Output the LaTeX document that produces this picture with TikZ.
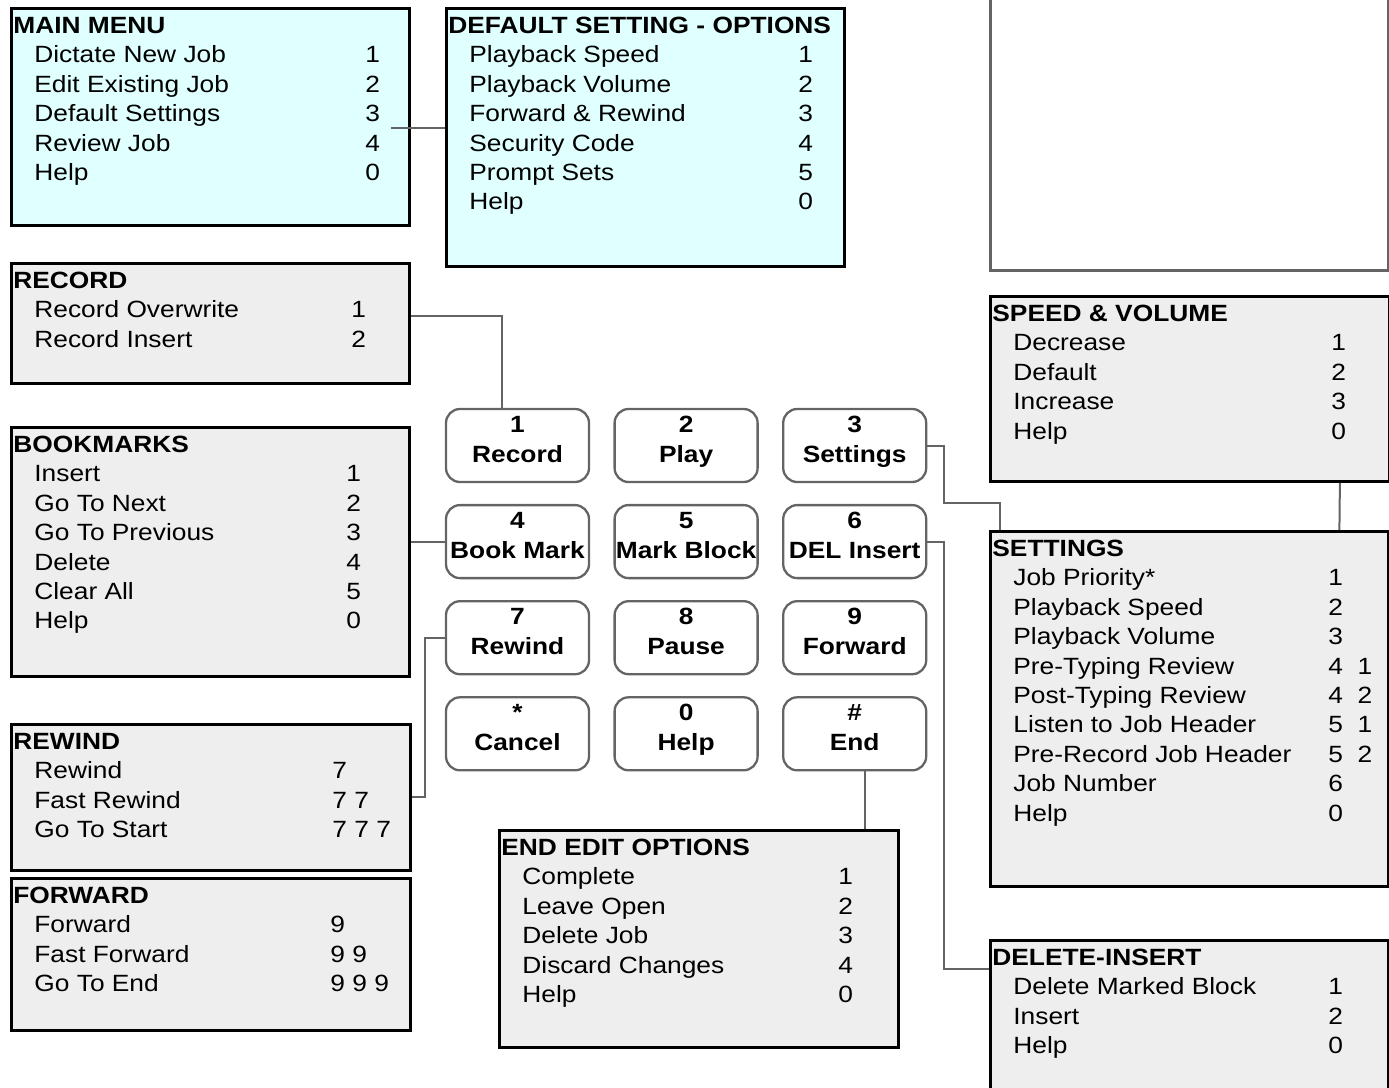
\documentclass[tikz,border=0pt]{standalone}
\usepackage{fontspec}
\setmainfont{Liberation Sans}[FakeStretch=1.12]
\usetikzlibrary{positioning}

\definecolor{menucyan}{RGB}{224,255,255}
\definecolor{menugray}{RGB}{238,238,238}
\definecolor{linegray}{RGB}{100,100,100}

\newlength{\numcol}
\newlength{\itemind}
\setlength{\itemind}{23pt}
% one menu line: text, then its key number in the number column
\newcommand{\entry}[2]{\makebox[\numcol][l]{\hspace*{\itemind}#1}#2\par}
% menu panel: width, height, number column, title, entries
\newcommand{\menu}[5]{\parbox[c][#2][t]{#1}{\setlength{\numcol}{#3}%
  \rule{0pt}{25pt}\hspace*{2pt}\textbf{#4}\par #5}}
% keypad label: digit over name
\newcommand{\keylabel}[2]{#1\\#2\rule[-13pt]{0pt}{13pt}}

\tikzset{
  menubox/.style={draw=black, line width=2.8pt, fill=menugray, inner sep=0pt,
    anchor=north west, font=\fontsize{23.5}{29.4}\selectfont},
  key/.style={draw=linegray, line width=2.3pt, rounded corners=14pt,
    minimum width=143pt, minimum height=73pt, inner sep=0pt, align=center,
    font=\bfseries\fontsize{23.5}{30}\selectfont},
  link/.style={draw=linegray, line width=2pt}
}

\begin{document}
\begin{tikzpicture}[x=1pt, y=-1pt]
\useasboundingbox (0,0) rectangle (1389,1087);
\clip (0,0) rectangle (1389,1087);

% menus
\node (mainmenu) [menubox, fill=menucyan] at (10,7) {\menu{398pt}{217pt}{354pt}{MAIN MENU}{%
  \entry{Dictate New Job}{1}
  \entry{Edit Existing Job}{2}
  \entry{Default Settings}{3}
  \entry{Review Job}{4}
  \entry{Help}{0}}};
\node (defaults) [menubox, fill=menucyan] at (445,7) {\menu{398pt}{258pt}{352pt}{DEFAULT SETTING - OPTIONS}{%
  \entry{Playback Speed}{1}
  \entry{Playback Volume}{2}
  \entry{Forward \& Rewind}{3}
  \entry{Security Code}{4}
  \entry{Prompt Sets}{5}
  \entry{Help}{0}}};
\node (blankpanel) [draw=linegray, line width=2.8pt, inner sep=0pt, minimum width=398pt,
  minimum height=320pt, anchor=south west] at (989,272) {};
\node (record) [menubox] at (10,262) {\menu{398pt}{120pt}{340pt}{RECORD}{%
  \entry{Record Overwrite}{1}
  \entry{Record Insert}{2}}};
\node (bookmarks) [menubox] at (10,426) {\menu{398pt}{249pt}{335pt}{BOOKMARKS}{%
  \entry{Insert}{1}
  \entry{Go To Next}{2}
  \entry{Go To Previous}{3}
  \entry{Delete}{4}
  \entry{Clear All}{5}
  \entry{Help}{0}}};
\node (rewind) [menubox] at (10,723) {\menu{399pt}{146pt}{321pt}{REWIND}{%
  \entry{Rewind}{7}
  \entry{Fast Rewind}{7 7}
  \entry{Go To Start}{7 7 7}}};
\node (forward) [menubox] at (10,877) {\menu{399pt}{152pt}{319pt}{FORWARD}{%
  \entry{Forward}{9}
  \entry{Fast Forward}{9 9}
  \entry{Go To End}{9 9 9}}};
\node (speedvol) [menubox] at (989,295) {\menu{399pt}{185pt}{341pt}{SPEED \& VOLUME}{%
  \entry{Decrease}{1}
  \entry{Default}{2}
  \entry{Increase}{3}
  \entry{Help}{0}}};
\node (settings) [menubox] at (989,530) {\menu{398pt}{355pt}{338pt}{SETTINGS}{%
  \entry{Job Priority*}{1}
  \entry{Playback Speed}{2}
  \entry{Playback Volume}{3}
  \entry{Pre-Typing Review}{4\ \ 1}
  \entry{Post-Typing Review}{4\ \ 2}
  \entry{Listen to Job Header}{5\ \ 1}
  \entry{Pre-Record Job Header}{5\ \ 2}
  \entry{Job Number}{6}
  \entry{Help}{0}}};
\node (endedit) [menubox] at (498,829) {\menu{399pt}{217pt}{339pt}{END EDIT OPTIONS}{%
  \entry{Complete}{1}
  \entry{Leave Open}{2}
  \entry{Delete Job}{3}
  \entry{Discard Changes}{4}
  \entry{Help}{0}}};
\node (delinsert) [menubox] at (989,939) {\menu{398pt}{170pt}{338pt}{DELETE-INSERT}{%
  \entry{Delete Marked Block}{1}
  \entry{Insert}{2}
  \entry{Help}{0}}};

% keypad
\node (key1) [key] at (517.5,445.5) {\keylabel{1}{Record}};
\node (key2) [key, right=23.3pt of key1] {\keylabel{2}{Play}};
\node (key3) [key, right=23.3pt of key2] {\keylabel{3}{Settings}};
\node (key4) [key, below=20.8pt of key1] {\keylabel{4}{Book Mark}};
\node (key5) [key, right=23.3pt of key4] {\keylabel{5}{Mark Block}};
\node (key6) [key, right=23.3pt of key5] {\keylabel{6}{DEL Insert}};
\node (key7) [key, below=20.8pt of key4] {\keylabel{7}{Rewind}};
\node (key8) [key, right=23.3pt of key7] {\keylabel{8}{Pause}};
\node (key9) [key, right=23.3pt of key8] {\keylabel{9}{Forward}};
\node (keystar) [key, below=20.8pt of key7] {\keylabel{*}{Cancel}};
\node (key0) [key, right=23.3pt of keystar] {\keylabel{0}{Help}};
\node (keyhash) [key, right=23.3pt of key0] {\keylabel{\#}{End}};

% links
\coordinate (mmout) at ([shift={(-20,11.5)}]mainmenu.east);
\draw[link] (mmout) -- (mmout -| defaults.west);
\draw[link] ([yshift=7pt]record.east) -| ([xshift=-15.5pt]key1.north);
\draw[link] (key3.east) -- ++(17,0) -- ++(0,57.5) -| ([xshift=11pt]settings.north west);
\draw[link] (key4.west) -- (key4.west -| bookmarks.east);
\draw[link] (key6.east) -- ++(17,0) |- ([yshift=-30pt]delinsert.north west);
\draw[link] (key7.west) -- ++(-20,0) |- (rewind.east);
\coordinate (hashout) at ([xshift=10pt]keyhash.south);
\draw[link] (hashout) -- (hashout |- endedit.north);
\draw[link] ([xshift=150pt]speedvol.south) -- ([xshift=150pt]settings.north);
\end{tikzpicture}
\end{document}
